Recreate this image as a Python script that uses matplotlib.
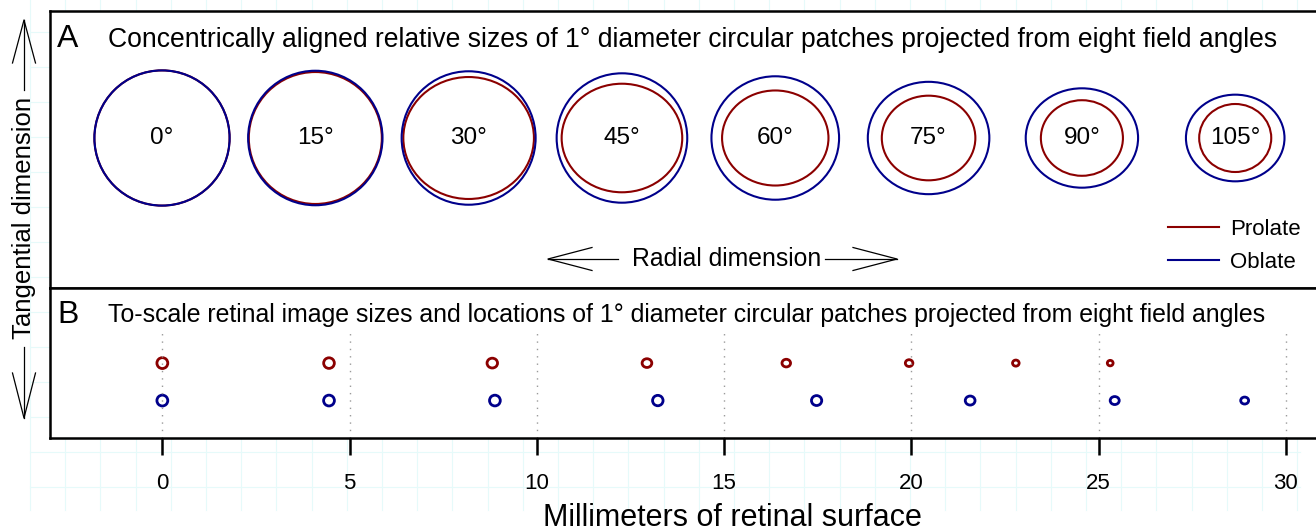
import matplotlib
matplotlib.use("Agg")
import matplotlib.pyplot as plt
import numpy as np
from matplotlib.patches import Ellipse
from matplotlib.lines import Line2D

plt.rcParams["font.family"] = ["Liberation Sans", "DejaVu Sans"]

angles = [0, 15, 30, 45, 60, 75, 90, 105]
# relative patch size (radial width, tangential height), 0 deg patch = 1
prolate_w = [1.0, 0.984, 0.966, 0.892, 0.787, 0.692, 0.607, 0.533]
prolate_h = [1.0, 0.976, 0.902, 0.803, 0.703, 0.626, 0.559, 0.503]
oblate_w = [1.0, 0.994, 0.991, 0.966, 0.944, 0.899, 0.831, 0.729]
oblate_h = [1.0, 0.995, 0.987, 0.957, 0.913, 0.831, 0.735, 0.641]
# retinal location of each patch centre (mm from the fovea)
prolate_mm = [0, 4.45, 8.81, 12.94, 16.66, 19.94, 22.79, 25.31]
oblate_mm = [0, 4.45, 8.88, 13.23, 17.47, 21.57, 25.43, 28.90]
patch_mm = 0.29  # retinal diameter of a 1 deg patch at the fovea
xticks = [0, 5, 10, 15, 20, 25, 30]

red = "#8B0000"
blue = "#00008B"

W, H = 1316, 531
fig = plt.figure(figsize=(W / 100, H / 100), dpi=100)

# layout in pixels
box_l, box_r, box_t, box_mid, box_b = 50, 1414, 11, 288, 438
px_mm = 37.45      # panel B scale
px_unit = 135.2    # panel A: 0 deg patch diameter
x0_px = 162        # horizontal position of the first patch


def frac(l, t, r, b):
    return [l / W, 1 - b / H, (r - l) / W, (b - t) / H]


# faint graph-paper background
bg = fig.add_axes([0, 0, 1, 1])
bg.set_xlim(0, W)
bg.set_ylim(H, 0)
bg.axis("off")
for gx in np.arange(30, 1305, 35.2):
    bg.plot([gx, gx], [0, 510], color="#e6fafa", lw=0.8)
for gy in np.arange(486.7, 0, -35.0):
    bg.plot([30, 1300], [gy, gy], color="#e6fafa", lw=0.8)

# ---- panel A: relative sizes, concentric
ax_a = fig.add_axes(frac(box_l, box_t, box_r, box_mid))
ax_a.set_xlim(-(x0_px - box_l) / px_unit, (box_r - x0_px) / px_unit)
ax_a.set_ylim(-(box_mid - 138) / px_unit, (138 - box_t) / px_unit)
ax_a.set_xticks([])
ax_a.set_yticks([])
ax_a.spines["right"].set_visible(False)
for s in ["top", "left", "bottom"]:
    ax_a.spines[s].set_linewidth(1.8)

spacing = 1.134
for i, ang in enumerate(angles):
    cx = i * spacing
    ax_a.add_patch(Ellipse((cx, 0), prolate_w[i], prolate_h[i], fill=False,
                           ec=red, lw=1.5))
    ax_a.add_patch(Ellipse((cx, 0), oblate_w[i], oblate_h[i], fill=False,
                           ec=blue, lw=1.5))
    ax_a.text(cx, 0, f"{ang}°", ha="center", va="center", fontsize=17.5)

handles = [Line2D([], [], color=red, lw=1.5), Line2D([], [], color=blue, lw=1.5)]
ax_a.legend(handles, ["Prolate", "Oblate"], loc="lower right",
            bbox_to_anchor=(1301 / W, 1 - 273 / H), bbox_transform=fig.transFigure,
            frameon=False, fontsize=16, handlelength=2.3, handletextpad=0.5,
            labelspacing=0.55, borderpad=0, borderaxespad=0)

# ---- panel B: to-scale retinal images
ax_b = fig.add_axes(frac(box_l, box_mid, box_r, box_b))
ax_b.set_xlim(-3, -3 + (box_r - box_l) / px_mm)
ax_b.set_ylim(0, (box_b - box_mid) / px_mm)
ax_b.spines["right"].set_visible(False)
for s in ["top", "left", "bottom"]:
    ax_b.spines[s].set_linewidth(1.8)
ax_b.set_yticks([])
ax_b.set_xticks(xticks)
ax_b.tick_params(axis="x", length=12, width=1.8, pad=13, labelsize=16)
ax_b.vlines(xticks, 0, 2.8, colors="#9a9a9a", linestyles=(0, (1, 4.3)), lw=1)

for i in range(len(angles)):
    ax_b.add_patch(Ellipse((prolate_mm[i], 2.0), prolate_w[i] * patch_mm,
                           prolate_h[i] * patch_mm, fill=False, ec=red, lw=2))
    ax_b.add_patch(Ellipse((oblate_mm[i], 1.0), oblate_w[i] * patch_mm,
                           oblate_h[i] * patch_mm, fill=False, ec=blue, lw=2))

ax_b.set_xlabel("Millimeters of retinal surface", fontsize=22, labelpad=7)

# ---- labels and direction arrows (pixel coordinates)
ov = fig.add_axes([0, 0, 1, 1], facecolor="none")
ov.set_xlim(0, W)
ov.set_ylim(H, 0)
ov.axis("off")

ov.text(57, 47, "A", fontsize=23, va="baseline")
ov.text(108, 47, "Concentrically aligned relative sizes of 1° diameter circular "
        "patches projected from eight field angles", fontsize=19.1, va="baseline")
ov.text(57, 323, "B", fontsize=23, va="baseline")
ov.text(108, 322, "To-scale retinal image sizes and locations of 1° diameter circular "
        "patches projected from eight field angles", fontsize=17.9, va="baseline")

arrow_kw = dict(color="black", lw=0.9)
# radial
ov.plot([548, 618], [259, 259], **arrow_kw)
ov.plot([592, 548, 592], [247.5, 259, 270.5], **arrow_kw)
ov.plot([825, 897], [259, 259], **arrow_kw)
ov.plot([853, 897, 853], [247.5, 259, 270.5], **arrow_kw)
ov.text(727, 259, "Radial dimension", fontsize=17.8, ha="center", va="center")
# tangential
ov.plot([24, 24], [20, 90], **arrow_kw)
ov.plot([12.5, 24, 35.5], [63, 20, 63], **arrow_kw)
ov.plot([24, 24], [347, 418], **arrow_kw)
ov.plot([12.5, 24, 35.5], [373, 418, 373], **arrow_kw)
ov.text(24, 218, "Tangential dimension", fontsize=18.5, rotation=90,
        ha="center", va="center")

fig.savefig("out.png", dpi=100)
